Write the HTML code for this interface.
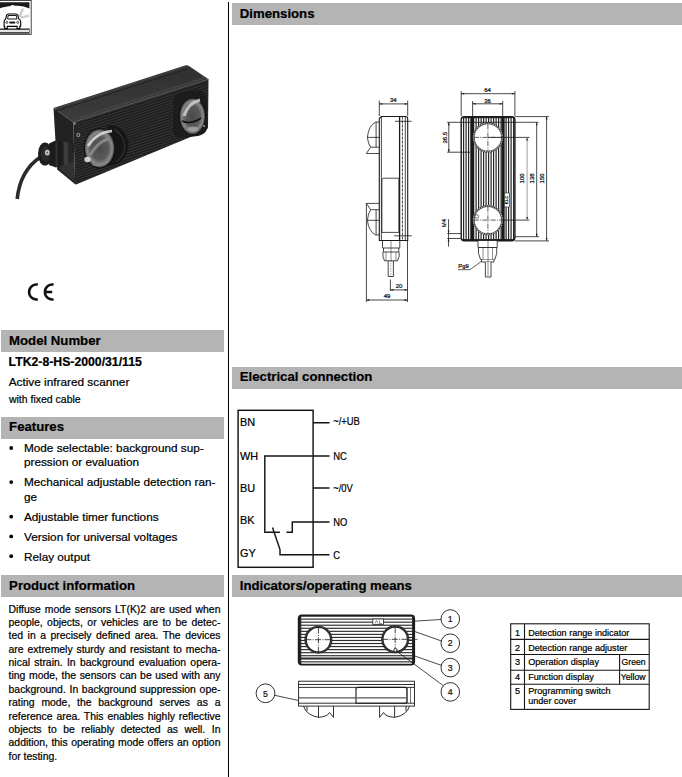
<!DOCTYPE html>
<html><head><meta charset="utf-8"><style>
html,body{margin:0;padding:0;background:#fff;}
body{width:682px;height:777px;overflow:hidden;}
svg{display:block;font-family:"Liberation Sans",sans-serif;}
text{stroke:#000;stroke-width:0.22px;}
</style></head><body>
<svg width="682" height="777" viewBox="0 0 682 777">
<rect x="1" y="330" width="223" height="22" fill="#b4b4b4"/>
<text transform="translate(9.1 344.8) scale(1 1.03)" font-size="13.2" font-weight="bold" fill="#000" >Model Number</text>
<rect x="1" y="417" width="223" height="22" fill="#b4b4b4"/>
<text transform="translate(9.1 431) scale(1 1.03)" font-size="13.2" font-weight="bold" fill="#000" >Features</text>
<rect x="1" y="575" width="223" height="22" fill="#b4b4b4"/>
<text transform="translate(9.1 589.8) scale(1 1.03)" font-size="13.2" font-weight="bold" fill="#000" >Product information</text>
<rect x="232" y="3" width="450" height="22" fill="#b4b4b4"/>
<text transform="translate(239.8 17.9) scale(1 1.03)" font-size="13.2" font-weight="bold" fill="#000" >Dimensions</text>
<rect x="232" y="367" width="450" height="22" fill="#b4b4b4"/>
<text transform="translate(239.8 381) scale(1 1.03)" font-size="13.2" font-weight="bold" fill="#000" >Electrical connection</text>
<rect x="232" y="575" width="450" height="22" fill="#b4b4b4"/>
<text transform="translate(239.8 589.8) scale(1 1.03)" font-size="13.2" font-weight="bold" fill="#000" >Indicators/operating means</text>
<rect x="228" y="2" width="1" height="775" fill="#000"/>
<text x="8.6" y="365.8" font-size="12.25" font-weight="bold" fill="#000" >LTK2-8-HS-2000/31/115</text>
<text x="8.7" y="386" font-size="11.8" fill="#000" >Active infrared scanner</text>
<text x="8.9" y="402.8" font-size="10.5" fill="#000" >with fixed cable</text>
<text x="24.0" y="452.3" font-size="11.75" fill="#000" >Mode selectable: background sup-</text>
<circle cx="11.2" cy="448.0" r="1.9" fill="#000"/>
<text x="24.0" y="466.3" font-size="11.75" fill="#000" >pression or evaluation</text>
<text x="24.0" y="486.4" font-size="11.75" fill="#000" >Mechanical adjustable detection ran-</text>
<circle cx="11.2" cy="482.09999999999997" r="1.9" fill="#000"/>
<text x="24.0" y="500.6" font-size="11.75" fill="#000" >ge</text>
<text x="24.0" y="521.0" font-size="11.75" fill="#000" >Adjustable timer functions</text>
<circle cx="11.2" cy="516.7" r="1.9" fill="#000"/>
<text x="24.0" y="540.7" font-size="11.75" fill="#000" >Version for universal voltages</text>
<circle cx="11.2" cy="536.4000000000001" r="1.9" fill="#000"/>
<text x="24.0" y="560.5" font-size="11.75" fill="#000" >Relay output</text>
<circle cx="11.2" cy="556.2" r="1.9" fill="#000"/>
<text x="8.6" y="612.6" font-size="10.4" word-spacing="1.099">Diffuse mode sensors LT(K)2 are used when</text>
<text x="8.6" y="625.97" font-size="10.4" word-spacing="1.545">people, objects, or vehicles are to be detec-</text>
<text x="8.6" y="639.34" font-size="10.4" word-spacing="1.655">ted in a precisely defined area. The devices</text>
<text x="8.6" y="652.71" font-size="10.4" word-spacing="1.037">are extremely sturdy and resistant to mecha-</text>
<text x="8.6" y="666.08" font-size="10.4" word-spacing="1.468">nical strain. In background evaluation opera-</text>
<text x="8.6" y="679.45" font-size="10.4" word-spacing="0.774">ting mode, the sensors can be used with any</text>
<text x="8.6" y="692.82" font-size="10.4" word-spacing="0.821">background. In background suppression ope-</text>
<text x="8.6" y="706.19" font-size="10.4" word-spacing="3.923">rating mode, the background serves as a</text>
<text x="8.6" y="719.56" font-size="10.4" word-spacing="1.047">reference area. This enables highly reflective</text>
<text x="8.6" y="732.93" font-size="10.4" word-spacing="3.610">objects to be reliably detected as well. In</text>
<text x="8.6" y="746.3" font-size="10.4" word-spacing="0.675">addition, this operating mode offers an option</text>
<text x="8.6" y="759.67" font-size="10.4" fill="#000" >for testing.</text>
<rect x="238.1" y="410.3" width="75" height="157" fill="none" stroke="#141414" stroke-width="1.45"/>
<text x="240.0" y="426.2" font-size="10.9" fill="#000" >BN</text>
<text x="240.0" y="460.1" font-size="10.9" fill="#000" >WH</text>
<text x="240.0" y="491.8" font-size="10.9" fill="#000" >BU</text>
<text x="240.0" y="523.6" font-size="10.9" fill="#000" >BK</text>
<text x="240.0" y="556.6" font-size="10.9" fill="#000" >GY</text>
<text transform="translate(333.2 425.4) scale(0.84 1)" font-size="11.2" fill="#000" >~/+UB</text>
<text transform="translate(333.2 459.5) scale(0.84 1)" font-size="11.2" fill="#000" >NC</text>
<text transform="translate(333.2 492.0) scale(0.84 1)" font-size="11.2" fill="#000" >~/0V</text>
<text transform="translate(333.2 525.8) scale(0.84 1)" font-size="11.2" fill="#000" >NO</text>
<text transform="translate(333.2 558.8) scale(0.84 1)" font-size="11.2" fill="#000" >C</text>
<g fill="none" stroke="#141414" stroke-width="1.45"><path d="M313 422.7H329.5M313 487.9H329.5"/><path d="M329.5 455.9H264.8V532.3H279.9"/><path d="M286.5 532.3H292.3V522H329.5"/><path d="M272.5 527.6L280 549.5V554.7H329.5"/></g>
<g fill="none" stroke="#141414" stroke-width="1.1">
<rect x="510.7" y="623.8" width="138.50000000000006" height="85.60000000000002"/>
<line x1="510.7" y1="639.4" x2="649.2" y2="639.4"/>
<line x1="510.7" y1="654.5" x2="649.2" y2="654.5"/>
<line x1="510.7" y1="670.3" x2="649.2" y2="670.3"/>
<line x1="510.7" y1="684.2" x2="649.2" y2="684.2"/>
<line x1="524.5" y1="623.8" x2="524.5" y2="709.4"/>
<line x1="619.6" y1="654.5" x2="619.6" y2="684.2"/>
</g>
<text x="515.0" y="635.6" font-size="9.1" fill="#000" >1</text>
<text x="528.2" y="635.6" font-size="9.1" fill="#000" >Detection range indicator</text>
<text x="515.0" y="650.5" font-size="9.1" fill="#000" >2</text>
<text x="528.2" y="650.5" font-size="9.1" fill="#000" >Detection range adjuster</text>
<text x="515.0" y="664.8" font-size="9.1" fill="#000" >3</text>
<text x="528.2" y="664.8" font-size="9.1" fill="#000" >Operation display</text>
<text x="515.0" y="679.5" font-size="9.1" fill="#000" >4</text>
<text x="528.2" y="679.5" font-size="9.1" fill="#000" >Function display</text>
<text x="515.0" y="693.8" font-size="9.1" fill="#000" >5</text>
<text x="528.2" y="693.8" font-size="9.1" fill="#000" >Programming switch</text>
<text x="528.2" y="704.3" font-size="9.1" fill="#000" >under cover</text>
<text transform="translate(621.6 664.8) scale(0.95 1)" font-size="9.1" fill="#000" >Green</text>
<text transform="translate(620.8 679.5) scale(0.95 1)" font-size="9.1" fill="#000" >Yellow</text>
<g>
<rect x="-1" y="0.5" width="32.2" height="33.9" fill="#fff" stroke="#444" stroke-width="1"/>
<path d="M0 2.3H29.4V8.5C26 7.0 22 6.0 15 5.8Q13.5 4.8 12 4.9Q10.8 5.2 10.5 5.9C6 6.3 3 7.2 0 8.3Z" fill="#1a1a1a"/>
<rect x="0" y="28.4" width="29.7" height="5.4" fill="#4a4a4a"/>
<rect x="0" y="30.0" width="29.0" height="2.0" fill="#e4e4e4"/>
<g stroke="#c4c4c4" stroke-width="2.2" fill="none"><path d="M19.8 16.5L23 8.5"/><path d="M20.5 17.5L29 15.6"/></g>
<g stroke="#fff" stroke-width="0.5" fill="none"><path d="M20.5 14.6l1.4 0.6M21.5 12.2l1.4 0.6M22.4 10l1.4 0.6M23.5 15.6l0.3 1.5M25.5 15.2l0.3 1.5M27.5 14.8l0.3 1.5"/></g>
<path d="M6.6 15.3Q7.1 14 8.6 14H15.9Q17.4 14 17.9 15.3L19 19.3Q20.7 19.9 20.7 22V26.2H19.8V28.6H17.1V26.4H7.3V28.6H4.7V26.2H4.1V22Q4.1 19.9 5.5 19.3Z" fill="#fff" stroke="#000" stroke-width="1.1"/>
<path d="M8.2 15.5H16.4L17 19H7.6Z" fill="#fff" stroke="#000" stroke-width="0.9"/>
<rect x="9.4" y="21.6" width="5.8" height="1.9" fill="#111"/>
<circle cx="6.8" cy="22.4" r="1" fill="none" stroke="#000" stroke-width="0.7"/><circle cx="17.7" cy="22.4" r="1" fill="none" stroke="#000" stroke-width="0.7"/>
</g>
<defs><linearGradient id="topf" x1="0" y1="0" x2="0" y2="1"><stop offset="0" stop-color="#303030"/><stop offset="1" stop-color="#3c3c3c"/></linearGradient><radialGradient id="lens" cx="0.5" cy="0.5" r="0.5"><stop offset="0" stop-color="#4a4a4a"/><stop offset="0.6" stop-color="#5a5a5a"/><stop offset="0.85" stop-color="#8a8a8a"/><stop offset="1" stop-color="#444"/></radialGradient><pattern id="hstripe" width="6" height="2.6" patternUnits="userSpaceOnUse" patternTransform="rotate(-17.6)"><rect width="6" height="2.6" fill="#1b1b1b"/><rect y="1.5" width="6" height="0.8" fill="#404040"/></pattern><filter id="blur1"><feGaussianBlur stdDeviation="0.55"/></filter></defs>
<g filter="url(#blur1)">
<path d="M17.2 199C18.5 186 24 168 40.5 157" fill="none" stroke="#2a2a2a" stroke-width="3.6"/>
<path d="M53.5 108L73.3 122.2L75.1 184.3L57.2 169.5Z" fill="#202020"/>
<path d="M58 150L73.5 152L74.5 182L60 169Z" fill="#333"/>
<path d="M53.5 108L185 65.6Q187 65 189 66L208.5 79.2L73.3 122.2Z" fill="url(#topf)"/>
<path d="M55 108.5L186 66.5" stroke="#4a4a4a" stroke-width="0.8"/>
<path d="M56 111L187 69" stroke="#222" stroke-width="1"/>
<path d="M73.3 119.5L206 77.5" stroke="#444" stroke-width="1.5"/>
<path d="M73.3 122.2L208.5 79.2L208 128L205 131L76 184.5L75.1 184.3Z" fill="url(#hstripe)"/>
<path d="M73.3 122.2L208.5 79.2" stroke="#555" stroke-width="0.9"/>
<path d="M60 140L72.5 143.5L72.5 162L60 167Z" fill="#262626"/>
<path d="M64 141.5L68 142.5L68 164L64 165.5Z" fill="#3a3a3a"/>
<path d="M49 143.5L55.5 140.5L62 142L62.5 164L56 167.5L49 165Z" fill="#1c1c1c"/>
<path d="M55.5 141L57.5 141.5L57.5 166.5L55.5 167Z" fill="#333"/>
<ellipse cx="45" cy="154" rx="7" ry="11.5" fill="#1e1e1e"/>
<ellipse cx="45.5" cy="153.8" rx="4.6" ry="7.2" fill="#2c2c2c"/>
<ellipse cx="47.3" cy="152.6" rx="2.4" ry="2.9" fill="#c8c8c8"/>
<ellipse cx="47.3" cy="152.6" rx="1" ry="1.2" fill="#666"/>
<path d="M108 125Q124 125 128.4 142Q129 157 117 164L100 168Z" fill="#141414"/>
<path d="M114 129Q123 134 125 146Q124 156 116 162" stroke="#363636" stroke-width="1.2" fill="none"/>
<ellipse cx="99.6" cy="148.3" rx="16" ry="20.2" fill="#111"/>
<ellipse cx="99.6" cy="148.3" rx="14.8" ry="19.1" fill="url(#lens)"/>
<path d="M88 146Q97 132 112 131" stroke="#d8d8d8" stroke-width="2.6" fill="none" opacity="0.9"/>
<path d="M90 155Q98 142 108 139" stroke="#9a9a9a" stroke-width="3" fill="none" opacity="0.7"/>
<ellipse cx="87.5" cy="159.5" rx="3.2" ry="2.8" fill="#e0e0e0" opacity="0.9"/>
<path d="M92 164Q100 168 109 161" stroke="#888" stroke-width="1.6" fill="none" opacity="0.8"/>
<path d="M173 100Q175 93 183 92L198 90Q206.5 92 207 100L207 128Q206.5 134 198 136L180 138Q173.5 137 173 130Z" fill="#1c1c1c"/>
<ellipse cx="192.4" cy="116.3" rx="13.6" ry="18.8" fill="#111"/>
<ellipse cx="192.4" cy="116.3" rx="12.6" ry="17.8" fill="url(#lens)"/>
<path d="M184 116Q188 103 200 100" stroke="#d0d0d0" stroke-width="3.2" fill="none" opacity="0.85"/>
<ellipse cx="193" cy="129" rx="5" ry="2.4" fill="#aaa" opacity="0.75"/>
<path d="M182 121Q191 125 201 118" stroke="#111" stroke-width="1.6" fill="none"/>
<circle cx="78.3" cy="135" r="2" fill="#9a9a9a"/><circle cx="78.3" cy="135" r="0.9" fill="#1a1a1a"/>
<circle cx="74.5" cy="123.5" r="1.3" fill="#888"/>
<circle cx="204" cy="126" r="1.2" fill="#777"/>
</g>
<g fill="none" stroke="#111" stroke-width="2.5"><path d="M37.8 284.6A7.5 7.5 0 1 0 37.8 299.4"/><path d="M53.6 284.6A7.5 7.5 0 1 0 53.6 299.4M46 292H52.2"/></g>
<g fill="none" stroke="#1a1a1a" stroke-width="0.8">
<path d="M379.3 100.5V116M407.7 100.5V116M379.3 103.9H407.7"/>
<path d="M379.3 118.5L381.4 116.5H405.5Q407.7 116.5 407.7 118.7V240.5H379.3Z" stroke-width="1.1"/>
<path d="M381.4 116.5V240.5"/>
<path d="M381.9 232.4V180Q381.9 178.2 383.7 178.2H398.9V232.4H381.9Z"/>
<path d="M399.6 116.5V240.5" stroke-width="1.3"/>
<path d="M402.4 116.5V240.5" stroke-dasharray="3 1"/>
<path d="M405.3 116.5V240.5"/>
<path d="M395 121.3H411.6M394.2 235.8H411.8"/>
<path d="M376.1 122.1V147.2M375.5 122.1H379.3M370.6 147.2H379.3M375.5 122.1Q368.5 126 367.4 137.4Q368 143.5 370.6 147.2M367.4 137.4H379.3"/>
<path d="M370.6 147.2L366.4 153.5H379.3"/>
<path d="M366.4 203.4H379.3M366.4 203.4L370.6 209.7H379.3M376.1 209.7V234.9M370.6 209.7Q368 213.5 367.4 220.3Q368.5 231 375.5 234.9H379.3M367.4 220.3H379.3"/>
<path d="M382.5 240.5V248H399.8V240.5M383.5 248V252H398.8V248M383 252Q382 256 384.5 260.8H397.5Q400.3 256 399 252"/>
<path d="M386 252V260.8M396 252V260.8M391 240.5V262" stroke-width="0.5"/>
<path d="M388.2 261V276.5H393.4V261"/>
<path d="M390.8 263V276" stroke-width="0.4" stroke-dasharray="1.5 1"/>
<path d="M390.4 279.5V291M407.5 241V302M390.4 289.9H407.5"/>
<path d="M366.4 203.4V302M366.4 300H407.5"/>
</g>
<path d="M379.3 103.9l3 -0.9v1.8z" fill="#1a1a1a"/>
<path d="M407.7 103.9l-3 -0.9v1.8z" fill="#1a1a1a"/>
<path d="M390.4 289.9l3 -0.9v1.8z" fill="#1a1a1a"/>
<path d="M407.5 289.9l-3 -0.9v1.8z" fill="#1a1a1a"/>
<path d="M366.4 300l3 -0.9v1.8z" fill="#1a1a1a"/>
<path d="M407.5 300l-3 -0.9v1.8z" fill="#1a1a1a"/>
<text x="393.3" y="102.3" font-size="6.0" text-anchor="middle" fill="#222">34</text>
<text x="399" y="287.6" font-size="6.0" text-anchor="middle" fill="#222">20</text>
<text x="387" y="298" font-size="6.0" text-anchor="middle" fill="#222">49</text>
<defs><clipPath id="fvclip"><rect x="461.2" y="116.6" width="53.7" height="124.1" rx="3.2"/></clipPath></defs>
<rect x="461.2" y="116.6" width="53.7" height="124.1" rx="3.2" fill="#fff"/>
<g clip-path="url(#fvclip)" fill="#262626">
<rect x="463.00" y="116.6" width="1.2" height="124.1"/>
<rect x="465.50" y="116.6" width="1.2" height="124.1"/>
<rect x="468.00" y="116.6" width="1.2" height="124.1"/>
<rect x="470.50" y="116.6" width="1.2" height="124.1"/>
<rect x="473.00" y="116.6" width="1.2" height="124.1"/>
<rect x="475.50" y="116.6" width="1.2" height="124.1"/>
<rect x="478.00" y="116.6" width="1.2" height="124.1"/>
<rect x="480.50" y="116.6" width="1.2" height="124.1"/>
<rect x="483.00" y="116.6" width="1.2" height="124.1"/>
<rect x="485.50" y="116.6" width="1.2" height="124.1"/>
<rect x="488.00" y="116.6" width="1.2" height="124.1"/>
<rect x="490.50" y="116.6" width="1.2" height="124.1"/>
<rect x="493.00" y="116.6" width="1.2" height="124.1"/>
<rect x="495.50" y="116.6" width="1.2" height="124.1"/>
<rect x="498.00" y="116.6" width="1.2" height="124.1"/>
<rect x="500.50" y="116.6" width="1.2" height="124.1"/>
<rect x="503.00" y="116.6" width="1.2" height="124.1"/>
<rect x="505.50" y="116.6" width="1.2" height="124.1"/>
<rect x="508.00" y="116.6" width="1.2" height="124.1"/>
<rect x="510.50" y="116.6" width="1.2" height="124.1"/>
<rect x="513.00" y="116.6" width="1.2" height="124.1"/>
<rect x="461.2" y="116.6" width="53.7" height="1.6"/>
<rect x="461.2" y="239.0" width="53.7" height="1.7"/>
<rect x="470.5" y="116.6" width="3.6" height="124.1" fill="#1a1a1a"/>
<rect x="501.6" y="116.6" width="3.0" height="124.1" fill="#1a1a1a"/>
</g>
<rect x="461.2" y="116.6" width="53.7" height="124.1" rx="3.2" fill="none" stroke="#1a1a1a" stroke-width="1.4"/>
<circle cx="487.9" cy="137.4" r="15.2" fill="#4a4a4a"/>
<circle cx="487.9" cy="137.4" r="14.3" fill="none" stroke="#ddd" stroke-width="1.1" stroke-dasharray="1.1 1.3" opacity="0.8"/>
<circle cx="487.9" cy="137.4" r="13.2" fill="#fff"/>
<path d="M474 137.4H502M487.9 124.2V150.6" stroke="#1a1a1a" stroke-width="0.7" stroke-dasharray="5 1.2 1 1.2" fill="none"/>
<circle cx="487.9" cy="220.1" r="15.2" fill="#4a4a4a"/>
<circle cx="487.9" cy="220.1" r="14.3" fill="none" stroke="#ddd" stroke-width="1.1" stroke-dasharray="1.1 1.3" opacity="0.8"/>
<circle cx="487.9" cy="220.1" r="13.2" fill="#fff"/>
<path d="M474 220.1H502M487.9 206.9V233.29999999999998" stroke="#1a1a1a" stroke-width="0.7" stroke-dasharray="5 1.2 1 1.2" fill="none"/>
<rect x="504.5" y="193" width="5" height="14" fill="#fff" stroke="#222" stroke-width="0.6"/>
<text transform="translate(507.9 200) rotate(-90)" font-size="3.8" text-anchor="middle" fill="#222">K1-C</text>
<circle cx="476.8" cy="216.5" r="1.8" fill="none" stroke="#222" stroke-width="0.6"/>
<g fill="none" stroke="#1a1a1a" stroke-width="0.8">
<path d="M461.2 91V116M514.9 91V116M461.2 93.7H514.9"/>
<path d="M472.6 101V128M502.7 101V128M472.6 103.8H502.7"/>
<path d="M447.2 122.3H538.5M447.2 152.2H470M448.8 122.3V152.2"/>
<path d="M514.9 116.6H549M487.9 137.4H529.5M502 220.1H529.5M514.9 236.7H539M514.9 240.9H549"/>
<path d="M527.1 137.4V220.1" stroke="#888"/>
<path d="M536.7 122.3V236.7M546.6 116.6V240.9"/>
<path d="M447.3 233.6H461.2M447.3 238.5H461.2M448.55 219.2V246.7"/>
</g>
<path d="M461.2 93.7l3 -0.9v1.8z" fill="#1a1a1a"/>
<path d="M514.9 93.7l-3 -0.9v1.8z" fill="#1a1a1a"/>
<path d="M472.6 103.8l3 -0.9v1.8z" fill="#1a1a1a"/>
<path d="M502.7 103.8l-3 -0.9v1.8z" fill="#1a1a1a"/>
<path d="M448.8 122.3l-0.9 3h1.8z" fill="#1a1a1a"/>
<path d="M448.8 152.2l-0.9 -3h1.8z" fill="#1a1a1a"/>
<path d="M527.1 137.4l-0.9 3h1.8z" fill="#1a1a1a"/>
<path d="M527.1 220.1l-0.9 -3h1.8z" fill="#1a1a1a"/>
<path d="M536.7 122.3l-0.9 3h1.8z" fill="#1a1a1a"/>
<path d="M536.7 236.7l-0.9 -3h1.8z" fill="#1a1a1a"/>
<path d="M546.6 116.6l-0.9 3h1.8z" fill="#1a1a1a"/>
<path d="M546.6 240.9l-0.9 -3h1.8z" fill="#1a1a1a"/>
<path d="M448.55 233.6l-0.9 -3h1.8z" fill="#1a1a1a"/>
<path d="M448.55 238.5l-0.9 3h1.8z" fill="#1a1a1a"/>
<text x="487.5" y="91.9" font-size="6.0" text-anchor="middle" fill="#222">64</text>
<text x="487.5" y="102.7" font-size="6.0" text-anchor="middle" fill="#222">36</text>
<text transform="translate(446.9 137.7) rotate(-90)" font-size="6.0" text-anchor="middle" fill="#222">36.5</text>
<text transform="translate(524.4 178.4) rotate(-90)" font-size="6.0" text-anchor="middle" fill="#222">100</text>
<text transform="translate(534.3 178.4) rotate(-90)" font-size="6.0" text-anchor="middle" fill="#222">138</text>
<text transform="translate(544.2 178.4) rotate(-90)" font-size="6.0" text-anchor="middle" fill="#222">150</text>
<text transform="translate(446.4 223.2) rotate(-90)" font-size="6.0" text-anchor="middle" fill="#222">M4</text>
<g fill="#fff" stroke="#1a1a1a" stroke-width="0.8">
<path d="M478 240.9V247.5H497.2V240.9"/>
<path d="M478.5 247.5Q477.5 253 480.5 259.5H494.8Q497.8 253 496.7 247.5Z"/>
<path d="M481.5 259.5V262H494V259.5"/>
<path d="M485.4 262V277H491V262"/>
<path d="M483 247.5V259.5M492.5 247.5V259.5M488 241V276" fill="none" stroke-width="0.5"/>
</g>
<path d="M458 269.7H470L481.4 261.3" fill="none" stroke="#1a1a1a" stroke-width="0.7"/>
<text x="463.5" y="268" font-size="5.8" text-anchor="middle" fill="#222">Pg9</text>
<defs><clipPath id="ivclip"><rect x="298.7" y="615.3" width="115.5" height="49.30000000000007" rx="3.2"/></clipPath></defs>
<rect x="298.7" y="615.3" width="115.5" height="49.30000000000007" rx="3.2" fill="#fff"/>
<g clip-path="url(#ivclip)" fill="#2c2c2c">
<rect x="298.7" y="615.50" width="115.5" height="1.15"/>
<rect x="298.7" y="618.55" width="115.5" height="1.15"/>
<rect x="298.7" y="621.60" width="115.5" height="1.15"/>
<rect x="298.7" y="624.65" width="115.5" height="1.15"/>
<rect x="298.7" y="627.70" width="115.5" height="1.15"/>
<rect x="298.7" y="630.75" width="115.5" height="1.15"/>
<rect x="298.7" y="633.80" width="115.5" height="1.15"/>
<rect x="298.7" y="636.85" width="115.5" height="1.15"/>
<rect x="298.7" y="639.90" width="115.5" height="1.15"/>
<rect x="298.7" y="642.95" width="115.5" height="1.15"/>
<rect x="298.7" y="646.00" width="115.5" height="1.15"/>
<rect x="298.7" y="649.05" width="115.5" height="1.15"/>
<rect x="298.7" y="652.10" width="115.5" height="1.15"/>
<rect x="298.7" y="655.15" width="115.5" height="1.15"/>
<rect x="298.7" y="658.20" width="115.5" height="1.15"/>
<rect x="298.7" y="661.25" width="115.5" height="1.15"/>
<rect x="298.7" y="664.30" width="115.5" height="1.15"/>
<rect x="298.7" y="615.3" width="2.6" height="49.30000000000007"/>
<rect x="412.0" y="615.3" width="2.2" height="49.30000000000007"/>
<rect x="298.7" y="657.5" width="115.5" height="1.8"/>
</g>
<rect x="298.7" y="615.3" width="115.5" height="49.30000000000007" rx="3.2" fill="none" stroke="#1a1a1a" stroke-width="1.8"/>
<circle cx="318.4" cy="639.7" r="14" fill="#222"/>
<circle cx="318.4" cy="639.7" r="13" fill="none" stroke="#999" stroke-width="0.8" stroke-dasharray="1.1 1.3" opacity="0.7"/>
<circle cx="318.4" cy="639.7" r="11.6" fill="#fff"/>
<path d="M305.4 639.7H331.4M318.4 627.7V651.7" stroke="#1a1a1a" stroke-width="0.8" stroke-dasharray="6 1.3 1 1.3" fill="none"/>
<circle cx="395.2" cy="639.3" r="14" fill="#222"/>
<circle cx="395.2" cy="639.3" r="13" fill="none" stroke="#999" stroke-width="0.8" stroke-dasharray="1.1 1.3" opacity="0.7"/>
<circle cx="395.2" cy="639.3" r="11.6" fill="#fff"/>
<path d="M382.2 639.3H408.2M395.2 627.3V651.3" stroke="#1a1a1a" stroke-width="0.8" stroke-dasharray="6 1.3 1 1.3" fill="none"/>
<path d="M408 639.3H418" stroke="#1a1a1a" stroke-width="0.6"/>
<rect x="372.8" y="619.0" width="10.8" height="5.6" fill="#fff" stroke="#222" stroke-width="0.8"/>
<path d="M375 623.5L376.5 620.5L378 623.5M379.5 620.5V623.5H382" stroke="#444" stroke-width="0.6" fill="none"/>
<circle cx="395.5" cy="650.2" r="1.7" fill="#fff" stroke="#111" stroke-width="0.9"/>
<g fill="#fff" stroke="#1a1a1a" stroke-width="0.9">
<circle cx="450.3" cy="619.0" r="9.3"/>
<circle cx="450.3" cy="643.2" r="9.3"/>
<circle cx="450.3" cy="667.6" r="9.3"/>
<circle cx="450.3" cy="691.9" r="9.3"/>
<circle cx="265.5" cy="693.3" r="9.4"/>
</g>
<g fill="none" stroke="#1a1a1a" stroke-width="0.8">
<path d="M414.2 621.2L441 619.5"/>
<path d="M414.2 631.3L441.6 641"/>
<path d="M414.2 655.8L441.3 665.3"/>
<path d="M395.8 650.5L443.5 685.8"/>
<path d="M274.7 695.3L298.6 700.5"/>
</g>
<text x="450.3" y="622.2" font-size="8.8" text-anchor="middle" fill="#222">1</text>
<text x="450.3" y="646.4000000000001" font-size="8.8" text-anchor="middle" fill="#222">2</text>
<text x="450.3" y="670.8000000000001" font-size="8.8" text-anchor="middle" fill="#222">3</text>
<text x="450.3" y="695.1" font-size="8.8" text-anchor="middle" fill="#222">4</text>
<text x="265.5" y="696.5" font-size="8.8" text-anchor="middle" fill="#222">5</text>
<g fill="none" stroke="#1a1a1a" stroke-width="0.9">
<rect x="298.6" y="681.2" width="115.9" height="24.9" fill="#fff"/>
<path d="M298.6 684.5H414.5M298.6 687.4H414.5M298.6 697.9H356M298.6 703.2H414.5"/>
<path d="M407 687.4V703.2M410.5 687.4V703.2" stroke-width="0.6"/>
<path d="M356 703.2V689.4Q356 687.4 358 687.4H405Q407 687.4 407 689.4V701.2Q407 703.2 405 703.2Z" stroke-width="1.1"/>
<path d="M357 697.9H406" stroke-width="0.9"/>
<path d="M303.6 706.1Q306 715 318.5 717.4Q328 716.5 329.5 712.5L333.5 717.4V706.1M318.5 706.1V717.4M307 706.1V711"/>
<path d="M379.6 717.4L383.6 712.5Q385 716.5 394.6 717.4Q407 715 409.5 706.1M379.6 706.1V717.4M394.6 706.1V717.4M406 706.1V711"/>
</g>

</svg>
</body></html>
